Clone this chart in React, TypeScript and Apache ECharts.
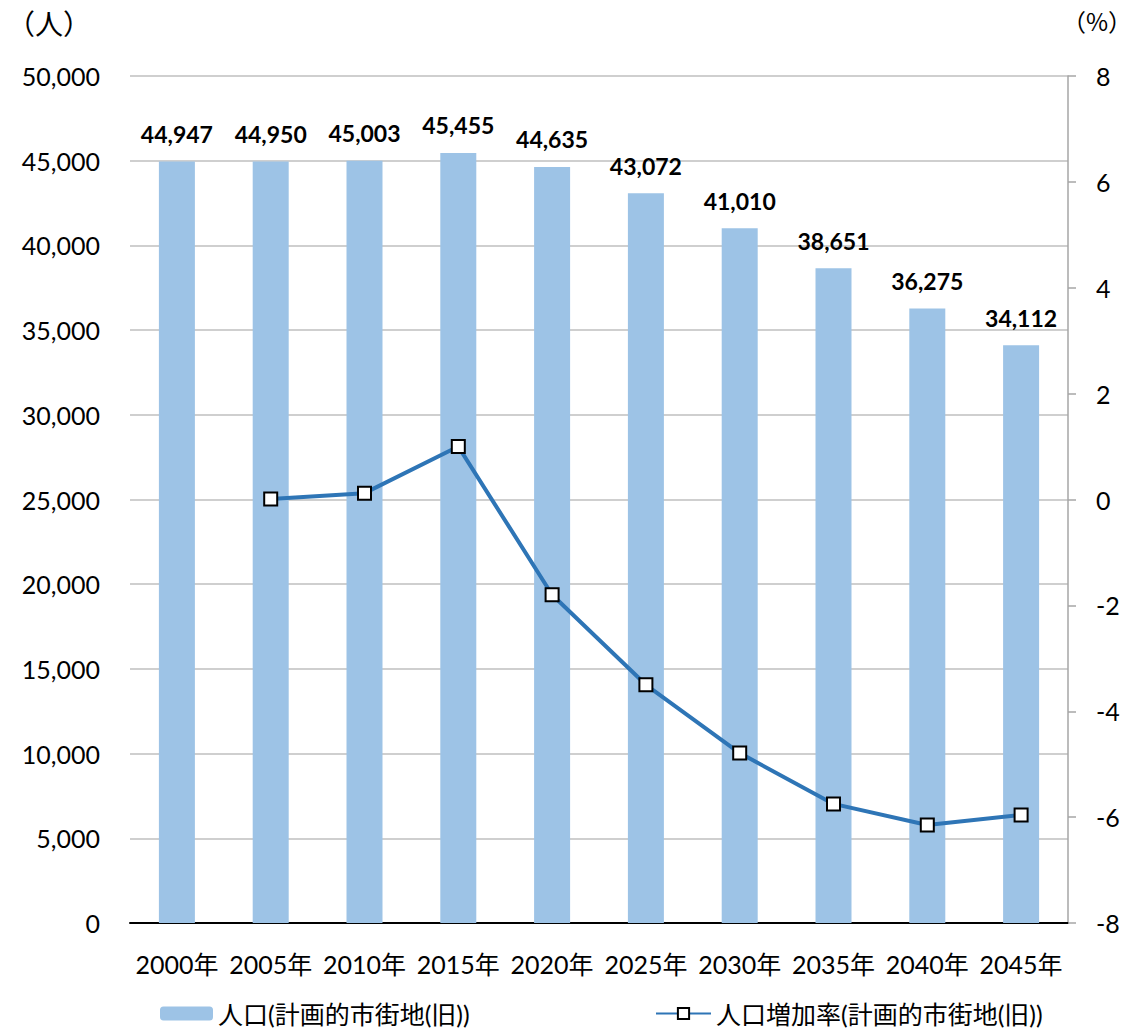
import React, { useEffect, useRef } from "react";
import * as echarts from "echarts";

// Census / projection years
const years = ["2000年", "2005年", "2010年", "2015年", "2020年", "2025年", "2030年", "2035年", "2040年", "2045年"];
// Population in the planned urban area (old boundary)
const population = [44947, 44950, 45003, 45455, 44635, 43072, 41010, 38651, 36275, 34112];
// Growth rate versus the previous period (%)
const growthRate = [null, 0.01, 0.12, 1.0, -1.8, -3.5, -4.79, -5.75, -6.15, -5.96];

const barName = "人口(計画的市街地(旧))";
const lineName = "人口増加率(計画的市街地(旧))";

const FONT = "Lato, 'Noto Sans CJK JP', sans-serif";
const CJK = "'Noto Sans CJK JP', sans-serif";

export default function App() {
  const ref = useRef<HTMLDivElement>(null);

  useEffect(() => {
    if (!ref.current) return;
    const chart = echarts.init(ref.current, undefined, { renderer: "svg" });
    chart.setOption({
      animation: false,
      textStyle: { fontFamily: FONT },
      grid: { left: 130, right: 64, top: 76, bottom: 110, containLabel: false },
      legend: [
        {
          data: [barName],
          left: 160,
          top: 1001,
          padding: 0,
          itemWidth: 53,
          itemHeight: 14,
          itemGap: 8,
          textStyle: { fontSize: 25, color: "#000", fontFamily: FONT },
        },
        {
          data: [lineName],
          left: 655,
          top: 1001,
          padding: 0,
          itemWidth: 55,
          itemHeight: 14,
          itemGap: 8,
          textStyle: { fontSize: 25, color: "#000", fontFamily: FONT },
        },
      ],
      graphic: [
        {
          type: "text",
          left: 7,
          top: 9,
          style: { text: "（人）", fontSize: 28, fill: "#000", fontFamily: CJK },
        },
        {
          type: "text",
          right: 0,
          top: 8,
          style: { text: "（%）", fontSize: 24, fill: "#000", fontFamily: CJK },
        },
      ],
      xAxis: {
        type: "category",
        data: years,
        axisLine: { show: true, lineStyle: { color: "#000", width: 2 } },
        axisTick: { show: false },
        axisLabel: { fontSize: 25, color: "#000", margin: 28, interval: 0, fontFamily: FONT },
      },
      yAxis: [
        {
          type: "value",
          min: 0,
          max: 50000,
          interval: 5000,
          axisLine: { show: false },
          axisTick: { show: false },
          splitLine: { show: true, lineStyle: { color: "#BFBFBF", width: 1.5 } },
          axisLabel: {
            fontSize: 25,
            color: "#000",
            margin: 30,
            fontFamily: FONT,
            formatter: (v: number) => v.toLocaleString("en-US"),
          },
        },
        {
          type: "value",
          min: -8,
          max: 8,
          interval: 2,
          position: "right",
          axisLine: { show: true, lineStyle: { color: "#A6A6A6", width: 1.5 } },
          axisTick: { show: true, length: 8, inside: false, lineStyle: { color: "#A6A6A6", width: 1.5 } },
          splitLine: { show: false },
          axisLabel: { fontSize: 25, color: "#000", margin: 28, fontFamily: FONT },
        },
      ],
      series: [
        {
          name: barName,
          type: "bar",
          data: population,
          barWidth: 36,
          yAxisIndex: 0,
          itemStyle: { color: "#9DC3E6" },
          label: {
            show: true,
            position: "top",
            distance: 16,
            fontSize: 23,
            fontWeight: "bold",
            color: "#000",
            fontFamily: FONT,
            formatter: (p: any) => Number(p.value).toLocaleString("en-US"),
          },
        },
        {
          name: lineName,
          type: "line",
          data: growthRate,
          yAxisIndex: 1,
          connectNulls: false,
          symbol: "rect",
          symbolSize: 13,
          lineStyle: { color: "#2E75B6", width: 4 },
          itemStyle: { color: "#FFFFFF", borderColor: "#000", borderWidth: 2 },
          z: 5,
        },
      ],
    });
    return () => chart.dispose();
  }, []);

  return <div ref={ref} style={{ width: 1132, height: 1033, position: "absolute", left: 0, top: 0 }} />;
}
